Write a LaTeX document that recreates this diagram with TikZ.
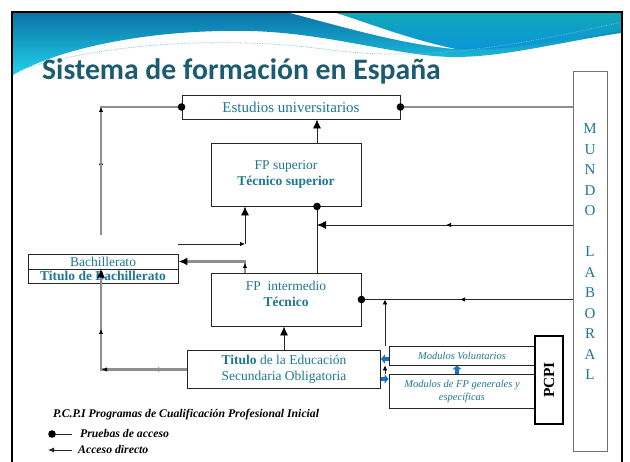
\documentclass[tikz,border=0pt]{standalone}
\usepackage{fontspec}
\setmainfont{Liberation Serif}
\newfontfamily\titlefont{Carlito}
\usetikzlibrary{arrows.meta}

\definecolor{txtteal}{HTML}{1F7891}
\definecolor{titleteal}{HTML}{1B5C70}
\definecolor{lgray}{HTML}{8E8E8E}
\definecolor{blockblue}{HTML}{1C6DC4}
\definecolor{bannertop}{HTML}{0A73A8}
\definecolor{bannerbot}{HTML}{22D3EA}
\definecolor{bannerright}{HTML}{12A8B8}
\definecolor{bannerrbot}{HTML}{0894DB}

\tikzset{
  box/.style={draw=black!85, line width=0.9pt, fill=white, text=txtteal, align=center,
    inner sep=0pt, font=\fontsize{13.5}{15.8}\selectfont},
  modbox/.style={box, font=\fontsize{10.5}{13}\selectfont\itshape},
  legend/.style={anchor=base west, inner sep=0pt, font=\fontsize{11.75}{14}\selectfont\bfseries\itshape},
  kline/.style={draw=black!85, line width=0.8pt},
  gline/.style={draw=lgray, line width=2.2pt},
  bigtip/.style={-{Latex[length=9pt,width=8pt,color=black]}},
  smalltip/.style={-{Latex[length=5pt,width=4.5pt,color=black]}},
  blockarrow/.style={draw=blockblue, line width=4.5pt, -{Triangle[length=4pt,width=9pt]}},
}

\begin{document}
\begin{tikzpicture}[x=1pt,y=-1pt]
  \useasboundingbox (0,0) rectangle (630,462);
  \fill[white] (0,0) rectangle (630,462);

  % banner and frame
  \shade[top color=bannertop, bottom color=bannerbot]
    (13,13) -- (621,13) -- (621,33) .. controls (560,42) and (505,57) .. (455,57)
    .. controls (400,57) and (330,33) .. (250,31) .. controls (150,29) and (60,48) .. (13,75) -- cycle;
  \shade[top color=bannerright, bottom color=bannerrbot]
    (336,13) .. controls (365,22) and (405,38) .. (455,49) .. controls (505,52) and (560,40) .. (621,31)
    -- (621,13) -- cycle;
  \fill[white] (290,13) .. controls (340,26) and (400,44) .. (455,49)
    .. controls (405,38) and (365,22) .. (336,13) -- cycle;
  \draw[cyan!40!teal!60, line width=0.7pt, densely dotted]
    (20,70) .. controls (120,38) and (250,38) .. (330,50) .. controls (400,58) and (470,57) .. (622,22);
  \draw[line width=2.2pt] (12,470) -- (12,12) -- (622,12) -- (622,470);

  \node[anchor=base west, inner sep=0pt, text=titleteal,
    font=\titlefont\bfseries\fontsize{29.7}{32}\selectfont] (title) at (42,80) {Sistema de formación en España};

  % boxes
  \node[box, minimum width=218, minimum height=24, font=\fontsize{15}{17}\selectfont] (univ) at (291,107) {Estudios universitarios};
  \node[box, minimum width=150, minimum height=63] (fpsup) at (286,174.5) {FP superior\\\textbf{Técnico superior}};
  \node[box, minimum width=150, minimum height=53] (fpint) at (286,299.5) {};
  \node[text=txtteal, align=center, inner sep=0pt, font=\fontsize{13.5}{15.8}\selectfont] (fpinttxt) at (286,294) {FP\ \ intermedio\\\textbf{Técnico}};
  \node[box, minimum width=150, minimum height=15] (bachtop) at (103,261.5) {Bachillerato};
  \node[box, minimum width=150, minimum height=14] (bachbot) at (103,276) {\textbf{Titulo de Bachillerato}};
  \node[box, minimum width=193, minimum height=38] (eso) at (284,369.5) {\textbf{Titulo} de la Educación\\Secundaria Obligatoria};
  \node[modbox, minimum width=146, minimum height=19] (vol) at (462,355.5) {Modulos Voluntarios};
  \node[modbox, minimum width=146, minimum height=34] (gen) at (462,391) {Modulos de FP generales y\\específicas};
  \node[draw=black, line width=2.6pt, fill=white, rotate=90, minimum width=88, minimum height=28, inner sep=0pt,
    font=\fontsize{15.4}{17}\selectfont\bfseries] (pcpi) at (549,380) {PCPI};
  \node[draw=black!55, line width=0.9pt, minimum width=34, minimum height=380] (mundo) at (590,261) {};
  \node[text=txtteal, align=center, inner sep=0pt, font=\fontsize{15}{20.5}\selectfont] (mundotxt) at (590,252)
    {M\\U\\N\\D\\O\\[20.5pt]L\\A\\B\\O\\R\\A\\L};

  % guide coordinates
  \coordinate (lfree) at (101,235);
  \coordinate (midL) at (178,244);
  \coordinate (xl) at (245,0);
  \coordinate (xr) at (317,0);
  \coordinate (xv) at (385,0);
  \coordinate (xb) at (457,0);
  \coordinate (ya) at (0,225);
  \coordinate (yb1) at (0,359);
  \coordinate (yb2) at (0,379);

  % connectors
  \draw[gline] (univ.west) -| (lfree);
  \draw[gline, smalltip] (lfree) -- (101,160);
  \draw[gline, smalltip] (lfree) -- (101,107);
  \draw[gline] (univ.east) -- (univ.east -| mundo.west);
  \draw[kline, bigtip] (fpsup.north -| xr) -- (univ.south -| xr);
  \draw[kline] (fpint.north -| xr) -- (fpsup.south -| xr);
  \draw[kline, bigtip] (mundo.west |- ya) -- (xr |- ya);
  \draw[kline, smalltip] (mundo.west |- ya) -- (446,225);
  \draw[kline, smalltip] (midL) -- (xl |- midL);
  \draw[kline, bigtip] (xl |- midL) -- (fpsup.south -| xl);
  \draw[gline, bigtip] (fpint.north -| xl) |- (bachtop.east);
  \draw[gline, smalltip] (fpint.north -| xl) -- (245,263);
  \draw[kline, bigtip] (eso.north) -- (eso.north |- fpint.south);
  \draw[kline] (mundo.west |- fpint.east) -- (fpint.east);
  \draw[kline, smalltip] (mundo.west |- fpint.east) -- (460,299.5);
  \draw[kline, smalltip, line width=0.6pt] (vol.north -| xv) -- (fpint.east -| xv);
  \draw[kline, smalltip, line width=0.6pt] (xv |- gen.north) -- (xv |- vol.south);
  \draw[gline, bigtip] (eso.west) -| (lfree |- bachbot.north);
  \draw[gline, smalltip] (eso.west) -- (154,369.5);
  \draw[gline, smalltip] (eso.west) -- (102,369.5);
  \draw[gline, smalltip] (101,369.5) -- (101,329);
  \fill (univ.west) circle[radius=3.8pt];
  \fill (univ.east) circle[radius=3.8pt];
  \fill (fpsup.south -| xr) circle[radius=3.8pt];
  \fill (fpint.east) circle[radius=3.8pt];

  % blue arrows
  \draw[blockarrow] (vol.west |- yb1) -- (eso.east |- yb1);
  \draw[blockarrow] (eso.east |- yb2) -- (gen.west |- yb2);
  \draw[blockarrow] (gen.north -| xb) -- (vol.south -| xb);

  % legend
  \node[legend] (pcpinote) at (53,418) {P.C.P.I Programas de Cualificación Profesional Inicial};
  \node[legend] (pruebas) at (80,438) {Pruebas de acceso};
  \node[legend] (acceso) at (78,454) {Acceso directo};
  \draw[kline] ([xshift=-8pt]pruebas.west) -- ([xshift=-28pt]pruebas.west);
  \fill ([xshift=-28pt]pruebas.west) circle[radius=3.8pt];
  \draw[kline, -{Latex[length=6pt,width=5pt]}] ([xshift=-6pt]acceso.west) -- ([xshift=-30pt]acceso.west);
\end{tikzpicture}
\end{document}
